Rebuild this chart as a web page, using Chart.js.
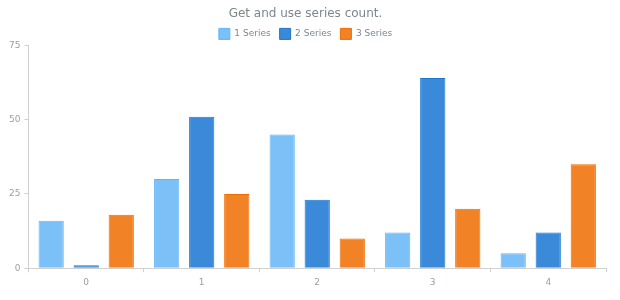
<!DOCTYPE html>
<html>
<head>
<meta charset="utf-8">
<script src="https://cdn.jsdelivr.net/npm/chart.js@4/dist/chart.umd.min.js"></script>
<style>
    html, body { margin: 0; padding: 0; background: #fff; }
    #wrap { width: 620px; height: 300px; position: relative; }
</style>
</head>
<body>
<div id="wrap"><canvas id="chart"></canvas></div>
<script>
    const categories = ['0', '1', '2', '3', '4'];
    const series1 = [16, 30, 45, 12, 5];
    const series2 = [1, 51, 23, 64, 12];
    const series3 = [18, 25, 10, 20, 35];
    const yTicks = [0, 25, 50, 75];

    const titleColor = '#7c868e';
    const tickColor = '#9aa0a6';
    const axisColor = '#d0d0d0';

    // keep the legend row short so the plot starts right under it
    const legendHeight = {
        id: 'legendHeight',
        beforeInit(chart) {
            const fit = chart.legend.fit;
            chart.legend.fit = function() {
                fit.call(this);
                this.height = 26;
            };
        }
    };

    new Chart(document.getElementById('chart'), {
        type: 'bar',
        data: {
            labels: categories,
            datasets: [{
                label: '1 Series',
                data: series1,
                backgroundColor: '#7bc0f7',
                borderColor: '#64b5f6',
                borderWidth: 1
            }, {
                label: '2 Series',
                data: series2,
                backgroundColor: '#3b8ad9',
                borderColor: '#1976d2',
                borderWidth: 1
            }, {
                label: '3 Series',
                data: series3,
                backgroundColor: '#f18226',
                borderColor: '#ef6c00',
                borderWidth: 1
            }]
        },
        options: {
            responsive: true,
            maintainAspectRatio: false,
            animation: false,
            categoryPercentage: 0.91,
            barPercentage: 0.72,
            layout: { padding: { left: 5, right: 14, top: 0, bottom: 7 } },
            plugins: {
                title: {
                    display: true,
                    text: 'Get and use series count.',
                    color: titleColor,
                    font: { family: 'DejaVu Sans', size: 12, weight: 'normal' },
                    padding: { top: 7, bottom: -2 }
                },
                legend: {
                    labels: {
                        color: titleColor,
                        font: { family: 'DejaVu Sans', size: 9 },
                        boxWidth: 11,
                        boxHeight: 11,
                        padding: 9
                    }
                },
                tooltip: { enabled: false }
            },
            scales: {
                x: {
                    grid: { drawOnChartArea: false, tickLength: 4, color: axisColor },
                    border: { color: axisColor },
                    ticks: { color: tickColor, font: { family: 'DejaVu Sans', size: 9 }, padding: 5 }
                },
                y: {
                    min: 0,
                    max: 75,
                    afterBuildTicks: axis => { axis.ticks = yTicks.map(v => ({ value: v })); },
                    grid: { drawOnChartArea: false, tickLength: 4, color: axisColor },
                    border: { color: axisColor },
                    ticks: { color: tickColor, font: { family: 'DejaVu Sans', size: 9 }, padding: 4 }
                }
            }
        },
        plugins: [legendHeight]
    });
</script>
</body>
</html>
